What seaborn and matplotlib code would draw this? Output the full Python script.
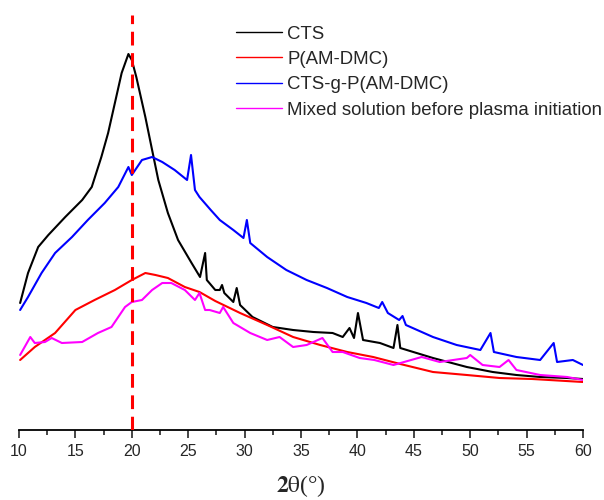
import pandas as pd
import matplotlib
matplotlib.use('Agg')
import matplotlib.pyplot as plt
import seaborn as sns

# XRD patterns (intensity in arbitrary units)
cts_x = [10.1, 10.8, 11.7, 12.6, 14.1, 15.6, 16.45, 17.3, 17.9, 18.5, 19.1, 19.7, 20.0, 20.4,
         21.2, 21.8, 22.35, 23.2, 24.1, 25.3, 26.05, 26.5, 26.65, 27.4, 27.8, 28.0, 28.2, 29.0,
         29.3, 29.6, 30.7, 32.5, 34.3, 36.1, 37.8, 38.7, 39.3, 39.7, 40.05, 40.5, 42.0, 43.2,
         43.55, 43.8, 46.7, 49.7, 52.0, 54.1, 56.2, 58.6, 60.0]
cts_y = [127, 157, 183, 195, 213, 230, 243, 273, 297, 327, 357, 376, 370, 353,
         313, 280, 250, 217, 190, 167, 153, 177, 150, 140, 140, 145, 137, 128,
         142, 125, 113, 103, 100, 98, 97, 93, 102, 92, 117, 90, 87, 82,
         105, 82, 72, 63, 58, 55, 53, 52, 51]

pam_x = [10.1, 11.4, 13.2, 15.0, 16.7, 18.5, 20.0, 21.2, 22.1, 23.2, 24.7, 26.0, 27.4,
         29.6, 32.0, 34.3, 36.7, 39.1, 41.4, 43.8, 46.7, 49.7, 52.6, 55.5, 60.0]
pam_y = [70, 83, 97, 120, 130, 140, 150, 157, 155, 152, 143, 138, 129,
         117, 105, 93, 85, 78, 73, 66, 58, 55, 52, 51, 48]

graft_x = [10.1, 10.8, 12.0, 13.2, 14.7, 16.1, 17.6, 18.8, 19.7, 20.0, 20.9, 21.8, 22.7,
           23.8, 24.9, 25.25, 25.6, 26.0, 27.0, 27.8, 29.0, 29.9, 30.2, 30.5, 32.0, 33.7,
           35.5, 37.3, 39.1, 40.8, 41.9, 42.2, 42.7, 43.7, 44.0, 44.3, 45.3, 46.7, 48.8,
           50.9, 51.8, 52.1, 54.1, 56.2, 57.4, 57.7, 59.1, 60.0]
graft_y = [120, 133, 157, 177, 193, 210, 227, 243, 263, 255, 270, 273, 268,
           260, 250, 275, 240, 233, 220, 210, 200, 192, 210, 187, 173, 160,
           150, 142, 133, 127, 122, 128, 117, 110, 114, 105, 100, 93, 85,
           80, 97, 78, 73, 70, 87, 68, 70, 65]

mix_x = [10.1, 10.5, 11.0, 11.4, 12.3, 12.9, 13.8, 15.6, 17.0, 18.2, 19.4, 20.0, 20.9,
         21.8, 22.7, 23.5, 24.7, 25.6, 26.0, 26.5, 26.9, 27.8, 28.1, 29.0, 30.5, 32.0,
         33.1, 34.3, 35.5, 36.9, 37.8, 38.7, 40.2, 41.5, 43.2, 45.7, 47.3, 49.7, 50.0,
         51.1, 52.6, 53.4, 54.1, 56.2, 58.6, 60.0]
mix_y = [75, 83, 93, 87, 88, 92, 87, 88, 97, 103, 123, 128, 130,
         140, 147, 147, 140, 130, 137, 120, 120, 117, 123, 107, 97, 90,
         93, 83, 85, 92, 78, 78, 72, 70, 65, 73, 68, 72, 75,
         65, 63, 70, 60, 55, 53, 50]

labels = ['CTS', 'P(AM-DMC)', 'CTS-g-P(AM-DMC)', 'Mixed solution before plasma initiation']
colors = ['black', 'red', 'blue', 'magenta']

frames = []
for lab, xs, ys in zip(labels, [cts_x, pam_x, graft_x, mix_x], [cts_y, pam_y, graft_y, mix_y]):
    frames.append(pd.DataFrame({'two_theta': xs, 'intensity': ys, 'sample': lab}))
df = pd.concat(frames, ignore_index=True)

sns.set_style('white')
plt.rcParams['font.family'] = ['Liberation Sans', 'DejaVu Sans']
plt.rcParams['mathtext.fontset'] = 'stix'

fig = plt.figure(figsize=(6.04, 5.0), dpi=100)
ax = fig.add_axes([19 / 604, 70 / 500, 564 / 604, 415 / 500])

sns.lineplot(data=df, x='two_theta', y='intensity', hue='sample', hue_order=labels,
             palette=colors, estimator=None, linewidth=1.5, ax=ax)

# reference line at 2theta = 20
ax.axvline(20, color='red', linestyle=(0, (4.5, 2.5)), linewidth=2.2, zorder=5)

ax.set_xlim(10, 60)
ax.set_ylim(0, 415)
ax.set_xticks(range(10, 61, 5))
ax.set_xticks([x + 2.5 for x in range(10, 60, 5)], minor=True)
ax.set_yticks([])
ax.set_ylabel('')
for s in ['left', 'right', 'top']:
    ax.spines[s].set_visible(False)
ax.spines['bottom'].set_linewidth(1.3)
ax.spines['bottom'].set_color('black')
ax.tick_params(axis='x', which='major', direction='out', length=6, width=1.2,
               labelsize=11.5, bottom=True, pad=4)
ax.tick_params(axis='x', which='minor', direction='out', length=3.5, width=1.2, bottom=True)

ax.set_xlabel(r'$\mathbf{2}\mathrm{\theta}$(°)', fontsize=17, family='Liberation Serif', labelpad=10)

leg = ax.legend(loc='upper left', bbox_to_anchor=(236 / 604, 0.949), bbox_transform=fig.transFigure,
                frameon=False, fontsize=13.4, handlelength=2.45, handletextpad=0.3,
                labelspacing=0.45, borderpad=0, borderaxespad=0)
for line in leg.get_lines():
    line.set_linewidth(1.0)

fig.savefig('out.png', dpi=100)
